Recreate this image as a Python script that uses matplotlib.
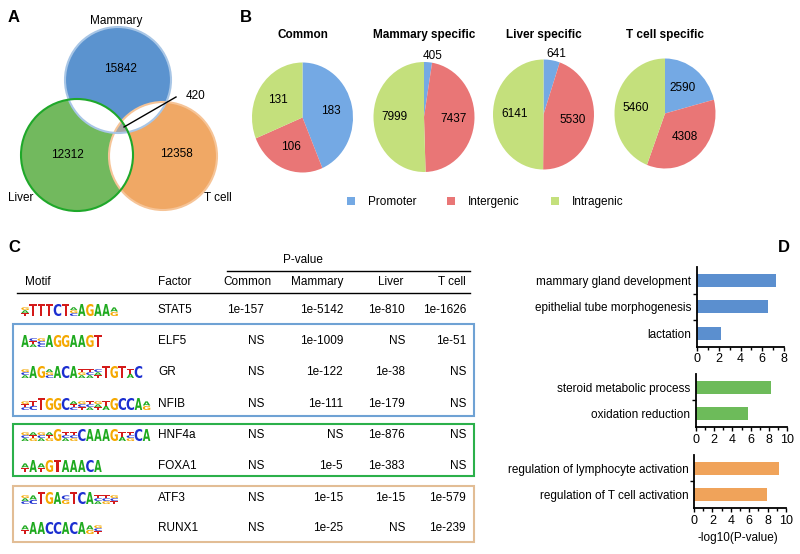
import numpy as np
import matplotlib
matplotlib.use('Agg')
from matplotlib import pyplot as plt
from matplotlib.patches import Circle, Polygon, Rectangle, Patch, PathPatch
from matplotlib.textpath import TextPath
from matplotlib.font_manager import FontProperties
from matplotlib.transforms import Affine2D

plt.rcParams['font.family'] = ['Liberation Sans', 'DejaVu Sans']

# ---- data ----
venn_labels = ['Mammary', 'Liver', 'T cell']
venn_counts = [15842, 12312, 12358]
venn_common = 420

pie_titles = ['Common', 'Mammary specific', 'Liver specific', 'T cell specific']
pie_promoter = [183, 405, 641, 2590]
pie_intergenic = [106, 7437, 5530, 4308]
pie_intragenic = [131, 7999, 6141, 5460]
region_names = ['Promoter', 'Intergenic', 'Intragenic']

factors = ['STAT5', 'ELF5', 'GR', 'NFIB', 'HNF4a', 'FOXA1', 'ATF3', 'RUNX1']
# each token: one letter = full height, several letters = small stacked letters
motifs = [
    ['GAT', 'T', 'T', 'T', 'C', 'T', 'AGC', 'A', 'G', 'A', 'A', 'AG'],
    ['A', 'CTA', 'GCC', 'A', 'G', 'G', 'A', 'A', 'G', 'T'],
    ['GCA', 'A', 'G', 'AGC', 'A', 'C', 'A', 'TGA', 'TCA', 'CAT', 'T', 'G', 'T', 'TA', 'C'],
    ['GTC', 'TC', 'T', 'G', 'G', 'C', 'ATC', 'GCT', 'TCA', 'GAT', 'TA', 'G', 'C', 'C', 'A', 'AG'],
    ['GCA', 'ATG', 'GCA', 'ATG', 'G', 'TCA', 'TCG', 'C', 'A', 'A', 'A', 'G', 'TA', 'TCG', 'C', 'A'],
    ['AT', 'A', 'AT', 'G', 'T', 'A', 'A', 'A', 'C', 'A'],
    ['GAC', 'AC', 'T', 'G', 'A', 'CG', 'T', 'C', 'A', 'TCA', 'TCG', 'GCT'],
    ['AT', 'A', 'A', 'C', 'C', 'A', 'C', 'A', 'AG', 'GCT'],
]
pval_columns = ['Common', 'Mammary', 'Liver', 'T cell']
pval_common = ['1e-157', 'NS', 'NS', 'NS', 'NS', 'NS', 'NS', 'NS']
pval_mammary = ['1e-5142', '1e-1009', '1e-122', '1e-111', 'NS', '1e-5', '1e-15', '1e-25']
pval_liver = ['1e-810', 'NS', '1e-38', '1e-179', '1e-876', '1e-383', '1e-15', 'NS']
pval_tcell = ['1e-1626', '1e-51', 'NS', 'NS', 'NS', 'NS', '1e-579', '1e-239']

go_mammary_terms = ['mammary gland development', 'epithelial tube morphogenesis', 'lactation']
go_mammary_vals = [7.3, 6.5, 2.2]
go_liver_terms = ['steroid metabolic process', 'oxidation reduction']
go_liver_vals = [8.2, 5.7]
go_tcell_terms = ['regulation of lymphocyte activation', 'regulation of T cell activation']
go_tcell_vals = [9.2, 7.9]

# ---- figure ----
W, H = 800, 554
fig = plt.figure(figsize=(W / 100, H / 100), dpi=100)
ax0 = fig.add_axes([0, 0, 1, 1])
ax0.set_xlim(0, W)
ax0.set_ylim(H, 0)
ax0.axis('off')

def px_axes(left, top, width, height):
    return fig.add_axes([left / W, 1 - (top + height) / H, width / W, height / H])

fs = 8.5
for lab, x, y in [('A', 8, 18), ('B', 240, 18), ('C', 8, 247), ('D', 778, 247)]:
    ax0.text(x, y, lab, fontsize=12, fontweight='bold', va='center')

# ---- A: venn ----
centers = [(118, 80), (77, 155), (163, 156)]
radii = [53, 56, 54]
faces = ['#5b93cf', '#72b95e', '#f0a865']
edges = ['#a8c6e6', '#1fa82a', '#f6c497']
circles = []
for (c, r, f) in zip(centers, radii, faces):
    p = Circle(c, r, facecolor=f, edgecolor='none', zorder=1)
    ax0.add_patch(p)
    circles.append(p)
for i in range(3):
    for j in range(i + 1, 3):
        w = Circle(centers[i], radii[i], facecolor='white', edgecolor='none', zorder=2)
        ax0.add_patch(w)
        w.set_clip_path(circles[j])
# triple overlap polygon
pts = []
t = np.linspace(0, 2 * np.pi, 720)
for k in range(3):
    xs = centers[k][0] + radii[k] * np.cos(t)
    ys = centers[k][1] + radii[k] * np.sin(t)
    inside = np.ones_like(xs, dtype=bool)
    for m in range(3):
        if m != k:
            inside &= (xs - centers[m][0]) ** 2 + (ys - centers[m][1]) ** 2 <= radii[m] ** 2
    pts += list(zip(xs[inside], ys[inside]))
pts = np.array(pts)
cen = pts.mean(axis=0)
pts = pts[np.argsort(np.arctan2(pts[:, 1] - cen[1], pts[:, 0] - cen[0]))]
ax0.add_patch(Polygon(pts, closed=True, facecolor='#a6a6a6', edgecolor='none', zorder=3))
for k in [2, 0, 1]:
    ax0.add_patch(Circle(centers[k], radii[k], facecolor='none', edgecolor=edges[k], lw=1.5, zorder=4))

ax0.text(120, 69, str(venn_counts[0]), fontsize=fs, ha='center', va='center', zorder=5)
ax0.text(67, 155, str(venn_counts[1]), fontsize=fs, ha='center', va='center', zorder=5)
ax0.text(176, 154, str(venn_counts[2]), fontsize=fs, ha='center', va='center', zorder=5)
ax0.text(116, 21, venn_labels[0], fontsize=fs, ha='center', va='center')
ax0.text(8, 198, venn_labels[1], fontsize=fs, ha='left', va='center')
ax0.text(204, 198, venn_labels[2], fontsize=fs, ha='left', va='center')
ax0.plot([176, 124], [97, 127], color='black', lw=1, zorder=6)
ax0.text(186, 96, str(venn_common), fontsize=fs, ha='left', va='center')

# ---- B: pies ----
pie_colors = ['#74a9e4', '#e97676', '#c4e07c']
pie_centers = [(302.5, 117.5), (424, 117), (543.5, 114.5), (665, 113.5)]
rx, ry = 50.5, 55
for i in range(4):
    cx, cy = pie_centers[i]
    ax = px_axes(cx - 1.1 * rx, cy - 1.1 * ry, 2.2 * rx, 2.2 * ry)
    vals = [pie_promoter[i], pie_intergenic[i], pie_intragenic[i]]
    wedges, _ = ax.pie(vals, colors=pie_colors, startangle=90, counterclock=False,
                       wedgeprops=dict(linewidth=0))
    ax.set_aspect('auto')
    ax.set_xlim(-1.1, 1.1)
    ax.set_ylim(-1.1, 1.1)
    total = sum(vals)
    for w, v in zip(wedges, vals):
        a = np.deg2rad((w.theta1 + w.theta2) / 2)
        if v / total < 0.08:
            ax.text(1.12 * np.cos(a) + 0.08, 1.0 * np.sin(a), str(v), fontsize=fs,
                    ha='center', va='bottom', clip_on=False)
        else:
            ax.text(0.58 * np.cos(a), 0.58 * np.sin(a), str(v), fontsize=fs,
                    ha='center', va='center')
    ax0.text(cx, 35, pie_titles[i], fontsize=fs, fontweight='bold', ha='center', va='center')

fig.legend(handles=[Patch(facecolor=c, label=n) for c, n in zip(pie_colors, region_names)],
           loc='center', bbox_to_anchor=(485 / W, 1 - 202 / H), ncol=3, frameon=False,
           fontsize=fs, handlelength=0.7, handleheight=0.7, handletextpad=1.1,
           columnspacing=2.6)

# ---- C: table ----
letter_colors = {'A': '#1faa1f', 'C': '#1c2fd0', 'G': '#f5a800', 'T': '#d41a1a'}
fprop = FontProperties(family='DejaVu Sans', weight='bold')

def draw_letter(ch, x, ybot, w, h):
    tp = TextPath((0, 0), ch, size=1, prop=fprop)
    ext = tp.get_extents()
    tr = (Affine2D().translate(-ext.x0, -ext.y0)
          .scale(w / ext.width, -h / ext.height).translate(x, ybot))
    ax0.add_patch(PathPatch(tr.transform_path(tp), facecolor=letter_colors[ch],
                            edgecolor='none', zorder=5))

row_y = [310, 341, 372, 404, 435, 466, 498, 528]
pos_w, full_h = 8.1, 12
for m, y in zip(motifs, row_y):
    x = 21
    base = y + 6
    for tok in m:
        if len(tok) == 1:
            draw_letter(tok, x + 0.3, base, pos_w - 0.6, full_h)
        else:
            hh = 9.0 / len(tok)
            for k, ch in enumerate(tok[::-1]):
                draw_letter(ch, x + 0.3, base - k * hh, pos_w - 0.6, hh * 0.92)
        x += pos_w

col_right = [264, 343, 405, 466]
ax0.text(303, 260, 'P-value', fontsize=fs, ha='center', va='center')
ax0.plot([227, 470], [271, 271], color='black', lw=1)
ax0.plot([17, 470], [293, 293], color='black', lw=1)
ax0.text(25, 282, 'Motif', fontsize=fs, va='center')
ax0.text(158, 282, 'Factor', fontsize=fs, va='center')
for name, xr in zip(pval_columns, [272, 343, 403, 466]):
    ax0.text(xr, 282, name, fontsize=fs, ha='right', va='center')
cols = [pval_common, pval_mammary, pval_liver, pval_tcell]
for r, y in enumerate(row_y):
    ax0.text(158, y, factors[r], fontsize=fs, va='center')
    for c in range(4):
        ax0.text(col_right[c], y, cols[c][r], fontsize=fs, ha='right', va='center')
for (top, bot, col) in [(324, 416, '#6fa2d4'), (424, 476, '#2bb04a'), (486, 542, '#e2bd95')]:
    ax0.add_patch(Rectangle((13, top), 461, bot - top, facecolor='none', edgecolor=col, lw=1.5))

# ---- D: GO bars ----
def go_panel(left, top, width, terms, vals, color, xmax, spacing=26.3):
    n = len(terms)
    ax = px_axes(left, top, width, n * spacing)
    ax.barh(np.arange(n), vals, height=0.5, color=color)
    ax.set_ylim(n - 0.5, -0.5)
    ax.set_xlim(0, xmax)
    ax.set_yticks(np.arange(n))
    ax.set_yticklabels(terms, fontsize=fs)
    ax.set_yticks(np.arange(n - 1) + 0.5, minor=True)
    ax.set_xticks(np.arange(0, xmax + 1, 2))
    ax.set_xticks(np.arange(1, xmax, 2), minor=True)
    ax.tick_params(axis='y', which='major', length=0, pad=4)
    ax.tick_params(axis='y', which='minor', length=3, width=1)
    ax.tick_params(axis='x', which='major', length=3, width=1, labelsize=fs + 0.5, pad=2)
    ax.tick_params(axis='x', which='minor', length=2, width=1)
    for s in ['top', 'right']:
        ax.spines[s].set_visible(False)
    for s in ['left', 'bottom']:
        ax.spines[s].set_linewidth(1.3)
    return ax

go_panel(697, 267, 87, go_mammary_terms, go_mammary_vals, '#5b8fcf', 8, 26.5)
go_panel(696, 374, 91, go_liver_terms, go_liver_vals, '#6dbb5a', 10)
go_panel(694, 455, 92, go_tcell_terms, go_tcell_vals, '#f0a35a', 10)
ax0.text(738, 538, '-log10(P-value)', fontsize=fs, ha='center', va='center')

fig.savefig('out.png', dpi=100)
